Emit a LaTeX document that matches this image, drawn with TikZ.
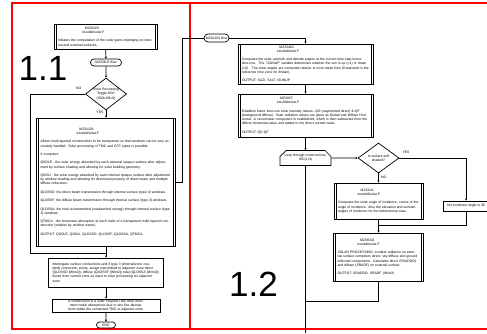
\documentclass[tikz,border=0pt]{standalone}
\usepackage{fontspec}
\newfontfamily\arialfont{Liberation Sans}
\usetikzlibrary{shapes.geometric,shapes.misc,arrows.meta}
\setlength{\parindent}{0pt}
\newcommand{\boxfont}{\arialfont\fontsize{3.4}{4.2}\selectfont}
% centred two-line heading (routine name and source file) above the body text
\newcommand{\bxhead}[2]{\leavevmode\hfil#1\hfil\null\par
  \leavevmode\hfil#2\hfil\null\par\vspace{4.2pt}}
\newcommand{\bxgap}{\par\vspace{4.2pt}}

\begin{document}
\begin{tikzpicture}[x=1pt,y=-1pt,
  ln/.style={line width=0.7pt},
  base/.style={ln, draw, font=\boxfont, inner xsep=4pt, inner ysep=1pt},
  procbox/.style={base, align=left},
  subproc/.style={procbox, append after command={
      ([xshift=2.5pt]\tikzlastnode.north west) edge[ln] ([xshift=2.5pt]\tikzlastnode.south west)
      ([xshift=-2.5pt]\tikzlastnode.north east) edge[ln] ([xshift=-2.5pt]\tikzlastnode.south east)}},
  term/.style={base, rounded rectangle, inner sep=0pt, align=center},
  decision/.style={base, diamond, aspect=1.3, inner sep=0pt, align=center},
  loopbox/.style={base, chamfered rectangle, chamfered rectangle corners={north west,north east},
      chamfered rectangle xsep=3pt, chamfered rectangle ysep=3pt, inner sep=0pt, align=center},
  flow/.style={ln, -{Stealth[length=2.2pt,width=2.2pt]}},
  link/.style={ln},
  tag/.style={font=\boxfont, inner sep=0.5pt},
  page/.style={draw=red, line width=1.4pt},
  bignum/.style={font=\arialfont\fontsize{35}{35}\selectfont, inner sep=0pt}
]
\useasboundingbox (0,0) rectangle (487,333);

% page frames
\draw[page] (12,3) rectangle (190,329);
\draw[page] (190,3) rectangle (495,329);

\node[bignum] (lblA) at (43,68.5) {1.1};
\node[bignum] (lblB) at (253.5,284.5) {1.2};

% ---- left page: MZSOLR
\node[subproc, text width=95pt, minimum height=25pt] (mzsolr) at (105.5,36.5)
  {\bxhead{MZSOLR}{esrubld/solar.F}Initiates the computation of the solar gains impinging on internal and external surfaces.};
\node[term, minimum width=31pt, minimum height=7pt] (flowA) at (106,62.5) {MZSOLR flow};
\node[decision, minimum width=41pt, minimum height=32pt] (solar) at (106,94) {Solar Processing\\Toggle ON?\\(ISOLAR=0)};
\node[subproc, text width=131pt, minimum height=128pt] (mzslgn) at (106,182)
  {\bxhead{MZSLGN}{esrubld/solar.F}%
  Allows multi-layered constructions to be transparent so that windows can be very accurately handled. Solar processing of TMC and CFC types is possible.\bxgap
  It computes:\bxgap
  QSOLE : the solar energy absorbed by each external opaque surface after adjustment by surface shading and allowing for solar building geometry.\bxgap
  QSOLI : the solar energy absorbed by each internal opaque surface after adjustment by window shading and allowing for directional property of direct beam and multiple diffuse reflections.\bxgap
  QLOSSD: the direct beam transmission through internal surface (type 3) windows.\bxgap
  QLOSSF: the diffuse beam transmission through internal surface (type 3) windows.\bxgap
  QLOSSA: the total re-transmitted (unabsorbed energy) through internal surface (type 3) windows.\bxgap
  QTMCA : the shortwave absorption at each node of a transparent multi layered construction (window by another name).\bxgap
  OUTPUT: QSOLE, QSOLI, QLOSSD, QLOSSF, QLOSSA, QTMCA};
\node[procbox, text width=107pt, minimum height=29pt] (inter) at (106,272.5)
  {Interrogate surface connections and if type 3 (internal/zone coupled) connection exists, assign transmitted to adjacent zone direct (QLOSSD [W/m2]), diffuse (QLOSSF [W/m2]) total (QLOSSA [W/m2]) fluxes from current zone as input to solar processing for adjacent zone.};
\node[procbox, align=center, text width=100pt, minimum height=13pt, inner ysep=0.2pt] (tmc) at (106,305.5)
  {If construction is a solar coupled TMC then increment nodal absorptions due to any flux absorptions within the connected TMC in adjacent zone.};
\node[term, minimum width=19pt, minimum height=6pt] (end) at (106,325) {END};

\node[tag, anchor=east] (noA) at (82,88.5) {NO};
\node[tag, anchor=east] (yesA) at (104,112.5) {YES};

\draw[flow] (mzsolr) -- (flowA);
\draw[flow] (flowA) -- (solar);
\draw[flow] (solar) -- (mzslgn);
\coordinate (joinA) at (106,253);
\draw[link] (solar.west) -- (30,94) -- (30,253) -- (joinA);
\draw[flow] (mzslgn) -- (inter);
\draw[flow] (inter) -- (tmc);
\draw[flow] (tmc) -- (end);

% ---- right page: MZSLGN flow
\node[term, minimum width=25pt, minimum height=8pt] (flowB) at (216.5,38) {MZSLGN flow};
\node[subproc, text width=127pt, minimum height=40pt] (mzsang) at (305.5,64)
  {\bxhead{MZSANG}{esrubld/solar.F}%
  Computes the solar azimuth and altitude angles at the current time-step future time-row. \ The `ISUNUP' variable determines whether the sun is up (=1) or down (=0). \ The solar angles are computed relative to local mean time (Greenwich is the reference time zone for Britain).\bxgap
  OUTPUT: SAZI, SALT, ISUNUP};
\node[subproc, text width=127pt, minimum height=43pt] (mzsint) at (305.5,115.5)
  {\bxhead{MZSINT}{esrubld/solar.F}%
  Establish future time-row solar intensity values: QD (augmented direct) \& QF (background diffuse). Solar radiation values are given as Global and Diffuse Horizontal. A circumsolar component is established, which is then subtracted from the diffuse horizontal value and added to the direct normal value.\bxgap
  OUTPUT: QD QF};
\node[loopbox, minimum width=51pt, minimum height=15pt] (loop) at (305.5,158) {Loop through constructions,\\ISC(1,N)};
\node[decision, minimum width=41pt, minimum height=30pt] (shaded) at (378.5,158) {Is surface self\\shaded?};
\node[subproc, text width=81pt, minimum height=36pt] (mzscai) at (378.5,201)
  {\bxhead{MZSCAI}{esrubld/solar.F}%
  Computes the solar angle of incidence, cosine of the angle of incidence. Also the elevation and azimuth angles of incidence for the bidirectional case.};
\node[procbox, align=center, minimum width=46pt, minimum height=10pt, inner xsep=1pt] (setang) at (466,206) {Set incidence angle to 90};
\node[subproc, text width=82pt, minimum height=48pt] (mzsrad) at (378.5,257)
  {\bxhead{MZSRAD}{esrubld/solar.F}%
  SOLAR PROCESSING: incident radiation on external surface comprises direct, sky diffuse and ground reflected components. Calculates direct (SRADDO) and diffuse (SRADF) on external surface.\bxgap
  OUTPUT: SRADDO, SRADF, (W/m2)};

\node[tag, anchor=west] (yesB) at (402,152) {YES};
\node[tag, anchor=west] (noB) at (380.5,177.5) {NO};

\draw[flow] (flowB.east) -| (mzsang.north);
\draw[link] (flowB.west) -| (182,182) -- (mzslgn.east);
\draw[flow] (mzsang) -- (mzsint);
\draw[flow] (mzsint) -- (loop);
\draw[flow] (loop) -- (shaded);
\draw[flow] (shaded.east) -| (setang.north);
\draw[flow] (shaded) -- (mzscai);
\draw[flow] (mzscai) -- (mzsrad);
\coordinate (joinB) at (378.5,225);
\draw[link] (setang.south) |- (joinB);
\coordinate (joinC) at (305.5,301);
\draw[link] (mzsrad.south) |- (joinC);
\coordinate (offpage) at (305.5,333);
\draw[link] (loop.south) -- (offpage);
\end{tikzpicture}
\end{document}
